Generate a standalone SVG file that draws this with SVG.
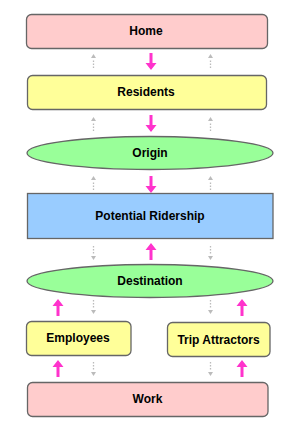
<svg xmlns="http://www.w3.org/2000/svg" width="293" height="430" viewBox="0 0 293 430">
<style>
.t{font-family:"Liberation Sans",Arial,sans-serif;font-weight:bold;font-size:12px;fill:#000;text-anchor:middle;dominant-baseline:central}
.n{stroke:#666;stroke-width:1.3}
.pk{fill:#ff33cc}
.gl{stroke:#bbb;stroke-width:1.3;stroke-dasharray:1.5 1.5;fill:none}
.gh{fill:#bbb}
</style>
<rect width="293" height="430" fill="#fff"/>
<g id="connectors">
<!-- pink down arrows -->
<path class="pk" d="M149.5 53h3v10h4l-5.5 7l-5.5-7h4z"/>
<path class="pk" d="M149.5 115h3v10h4l-5.5 7l-5.5-7h4z"/>
<path class="pk" d="M149.5 176h3v10h4l-5.5 7l-5.5-7h4z"/>
<!-- pink up arrows -->
<path class="pk" d="M149.5 260h3v-10h4l-5.5-7l-5.5 7h4z"/>
<path class="pk" d="M56.5 316h3v-10h4l-5.5-7l-5.5 7h4z"/>
<path class="pk" d="M240.5 316h3v-10h4l-5.5-7l-5.5 7h4z"/>
<path class="pk" d="M56.5 377h3v-10h4l-5.5-7l-5.5 7h4z"/>
<path class="pk" d="M240.5 377h3v-10h4l-5.5-7l-5.5 7h4z"/>
<!-- gray up arrows -->
<g>
<path class="gl" d="M93.5 68v-9"/><path class="gh" d="M93.5 54l-2.5 4h5z"/>
<path class="gl" d="M210.5 68v-9"/><path class="gh" d="M210.5 54l-2.5 4h5z"/>
<path class="gl" d="M93.5 131v-9"/><path class="gh" d="M93.5 117l-2.5 4h5z"/>
<path class="gl" d="M210.5 131v-9"/><path class="gh" d="M210.5 117l-2.5 4h5z"/>
<path class="gl" d="M93.5 190v-9"/><path class="gh" d="M93.5 176l-2.5 4h5z"/>
<path class="gl" d="M210.5 190v-9"/><path class="gh" d="M210.5 176l-2.5 4h5z"/>
</g>
<!-- gray down arrows -->
<g>
<path class="gl" d="M93.5 246v9"/><path class="gh" d="M93.5 260l-2.5-4h5z"/>
<path class="gl" d="M210.5 246v9"/><path class="gh" d="M210.5 260l-2.5-4h5z"/>
<path class="gl" d="M93.5 300v9"/><path class="gh" d="M93.5 314l-2.5-4h5z"/>
<path class="gl" d="M210.5 300v9"/><path class="gh" d="M210.5 314l-2.5-4h5z"/>
<path class="gl" d="M93.5 362v9"/><path class="gh" d="M93.5 376l-2.5-4h5z"/>
<path class="gl" d="M210.5 362v9"/><path class="gh" d="M210.5 376l-2.5-4h5z"/>
</g>
</g>
<g id="home"><rect class="n" x="26.5" y="14.5" width="241" height="34" rx="5" fill="#ffcccc"/><text class="t" x="146" y="31">Home</text></g>
<g id="residents"><rect class="n" x="27.5" y="75.5" width="239" height="34" rx="5" fill="#ffff99"/><text class="t" x="146" y="92">Residents</text></g>
<g id="origin"><ellipse class="n" cx="150" cy="153" rx="123" ry="16.5" fill="#99ff99"/><text class="t" x="150" y="153">Origin</text></g>
<g id="potential-ridership"><rect class="n" x="27.5" y="193.5" width="245.5" height="45" fill="#99ccff"/><text class="t" x="150" y="216">Potential Ridership</text></g>
<g id="destination"><ellipse class="n" cx="150" cy="281" rx="123" ry="16.5" fill="#99ff99"/><text class="t" x="150" y="281">Destination</text></g>
<g id="employees"><rect class="n" x="26.5" y="321.5" width="104.5" height="34" rx="5" fill="#ffff99"/><text class="t" x="78" y="338">Employees</text></g>
<g id="trip-attractors"><rect class="n" x="167.5" y="322.5" width="102.5" height="34" rx="5" fill="#ffff99"/><text class="t" x="218.5" y="340">Trip Attractors</text></g>
<g id="work"><rect class="n" x="27.5" y="382.5" width="240.5" height="34" rx="5" fill="#ffcccc"/><text class="t" x="147.5" y="399">Work</text></g>
</svg>
